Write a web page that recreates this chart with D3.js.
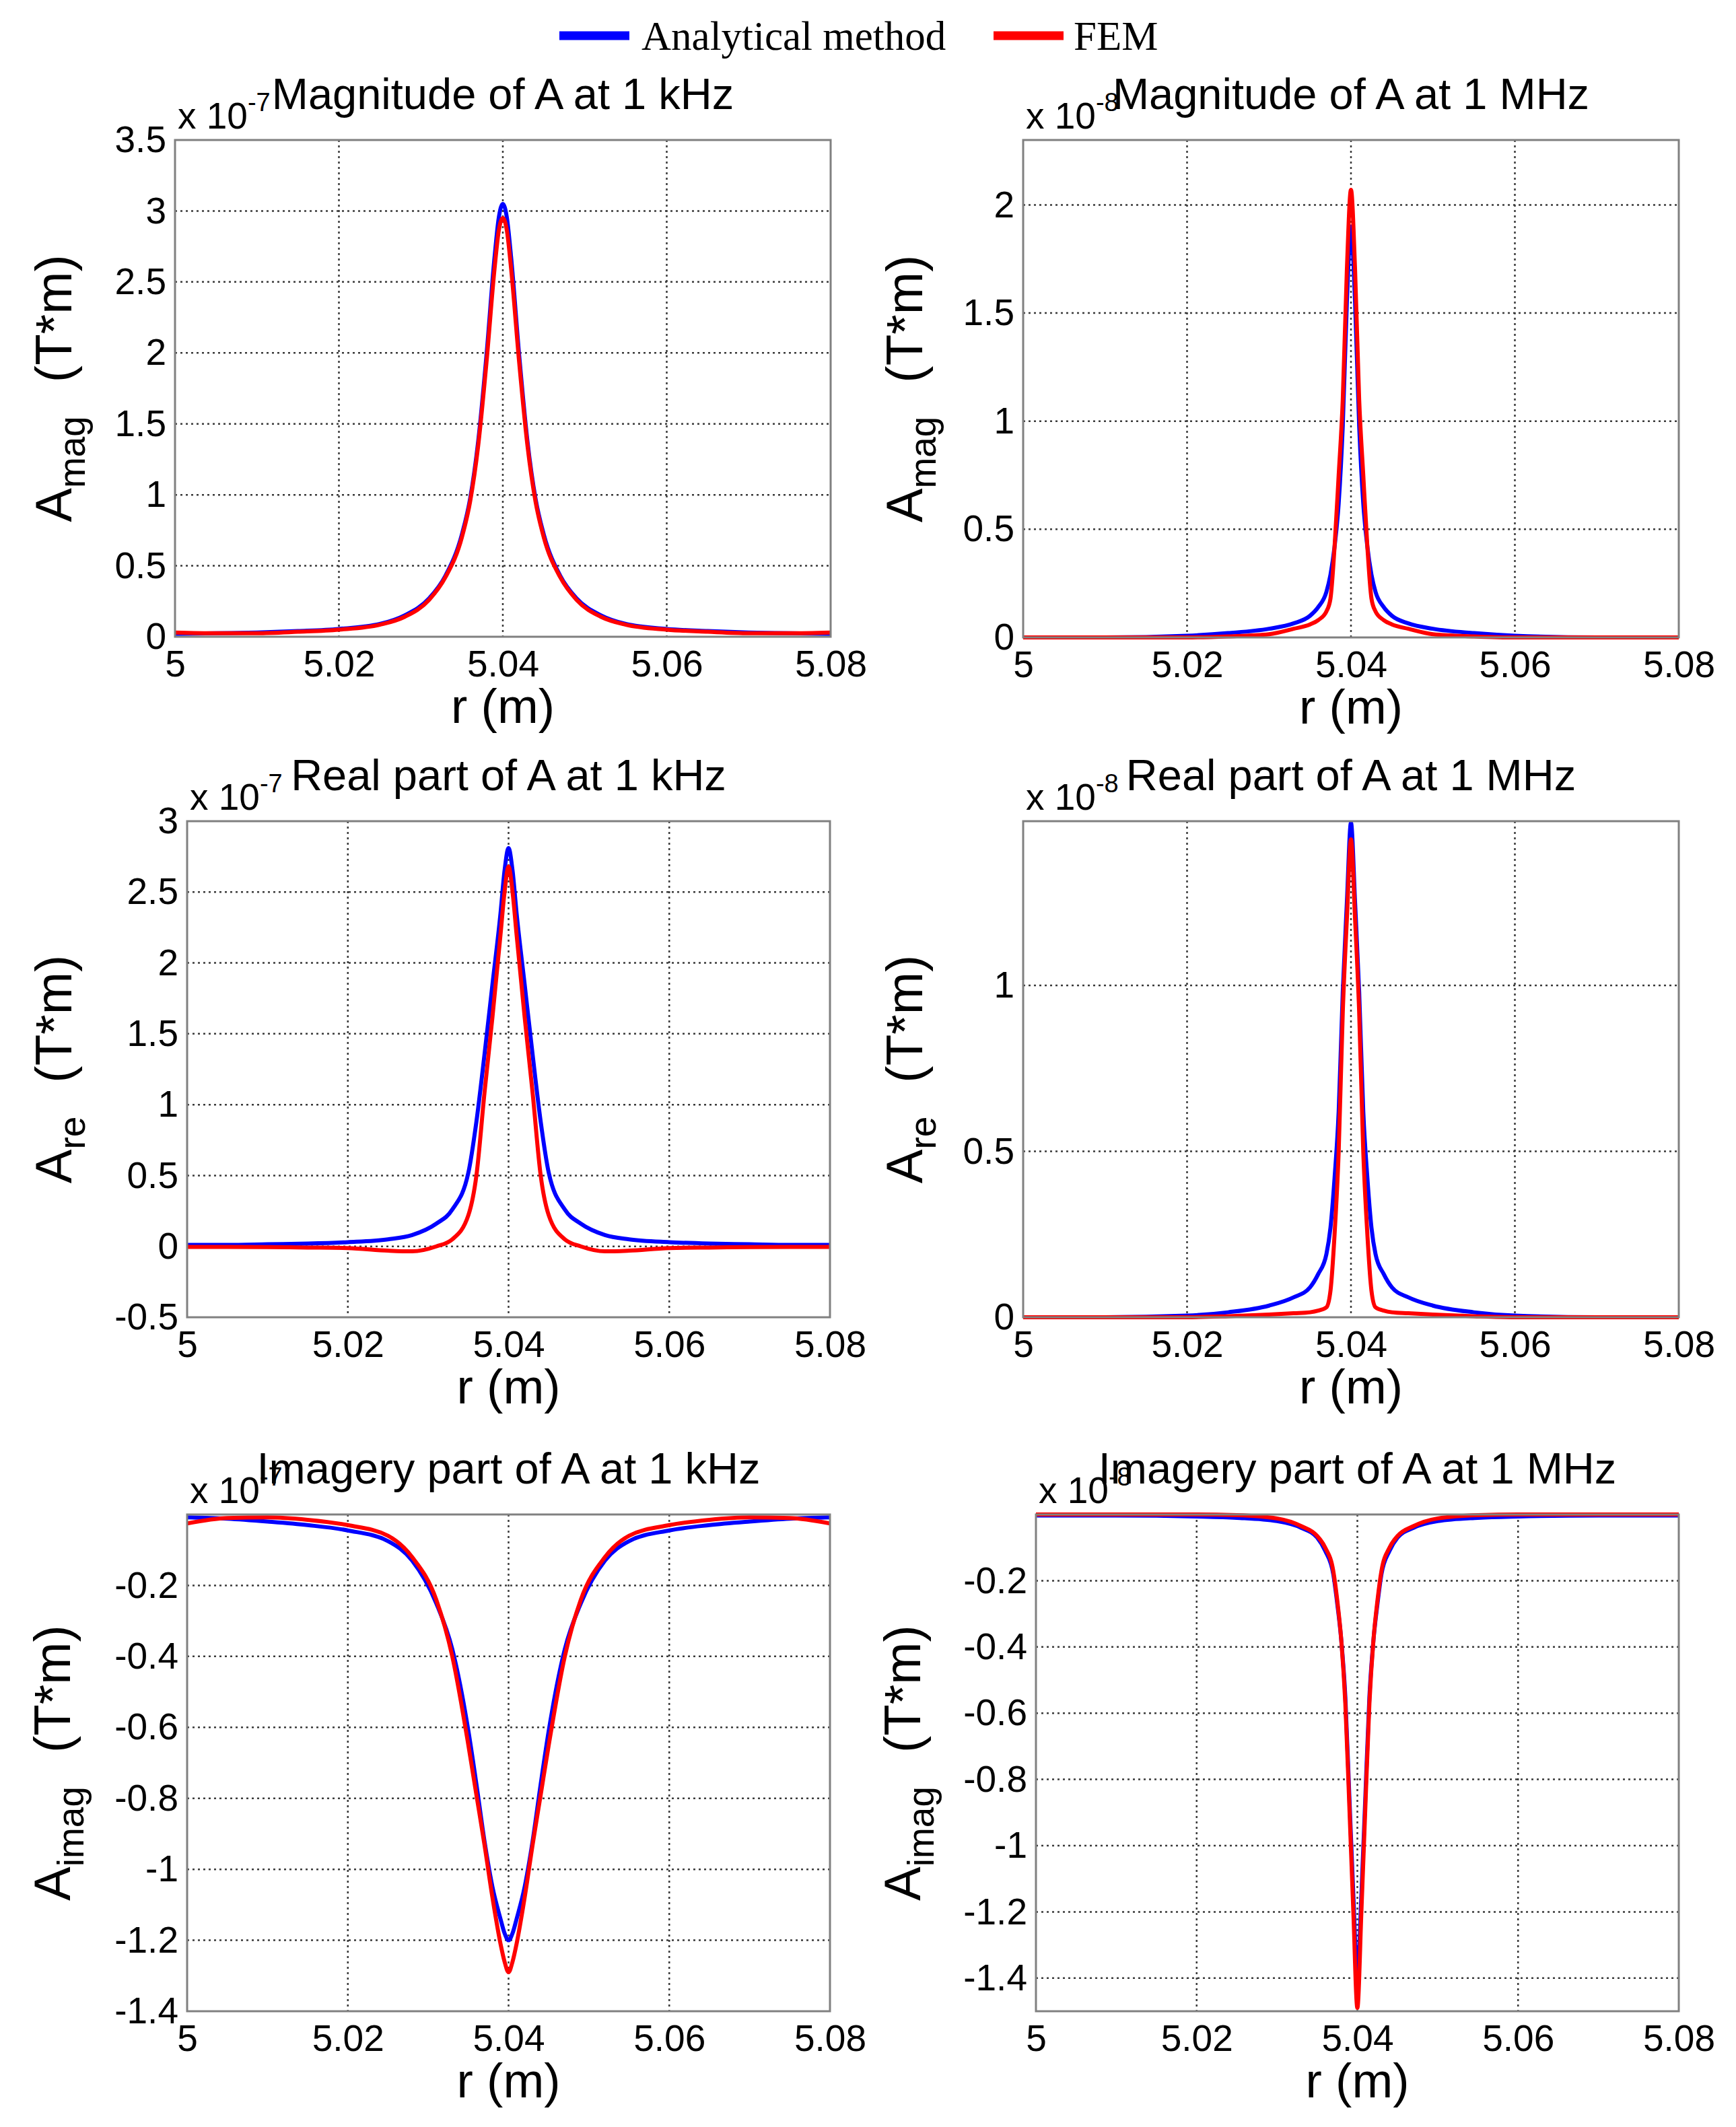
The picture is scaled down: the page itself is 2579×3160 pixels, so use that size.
<!DOCTYPE html>
<html>
<head>
<meta charset="UTF-8">
<title>A field comparison</title>
<script src="https://d3js.org/d3.v7.min.js"></script>
<style>
    body { margin: 0; background: #fff; }
    svg { display: block; }
    text { font-family: "Liberation Sans", Arial, sans-serif; fill: #000; }
</style>
</head>
<body>
<svg id="chart" width="2579" height="3160"></svg>
<script>
    // ---- data (y values in units of the axis exponent) ----
    const seriesNames = ["Analytical method", "FEM"];
    const titles = [
        "Magnitude of A at 1 kHz", "Magnitude of A at 1 MHz",
        "Real part of A at 1 kHz", "Real part of A at 1 MHz",
        "Imagery part of A at 1 kHz", "Imagery part of A at 1 MHz"
    ];
    const exponents = ["-7", "-8", "-7", "-8", "-7", "-8"];
    const ySubscripts = ["mag", "mag", "re", "re", "imag", "imag"];

    const xTicks = [5, 5.02, 5.04, 5.06, 5.08];
    const xLimits = [5, 5.08];

    // r grid for the 1 kHz plots
    const rKHz = [5.000, 5.005, 5.010, 5.015, 5.020, 5.025, 5.028, 5.031, 5.033, 5.035, 5.036,
        5.037, 5.038, 5.039, 5.0395, 5.040, 5.0405, 5.041, 5.042, 5.043, 5.044, 5.045,
        5.047, 5.049, 5.052, 5.055, 5.060, 5.065, 5.070, 5.075, 5.080];
    // r grid for the 1 MHz plots
    const rMHz = [5.000, 5.010, 5.020, 5.025, 5.030, 5.033, 5.035, 5.036, 5.037, 5.0375,
        5.038, 5.0385, 5.039, 5.0395, 5.040, 5.0405, 5.041, 5.0415, 5.042, 5.0425, 5.043,
        5.044, 5.045, 5.047, 5.050, 5.055, 5.060, 5.070, 5.080];

    const magKHzAnalytical = [0.02, 0.025, 0.03, 0.04, 0.055, 0.09, 0.15, 0.27, 0.43, 0.72, 0.97,
        1.38, 1.98, 2.68, 2.95, 3.05, 2.95, 2.68, 1.98, 1.38, 0.97, 0.72,
        0.43, 0.27, 0.15, 0.09, 0.055, 0.04, 0.03, 0.025, 0.02];
    const magKHzFEM = [0.03, 0.025, 0.025, 0.035, 0.05, 0.085, 0.14, 0.26, 0.42, 0.70, 0.95,
        1.35, 1.93, 2.60, 2.86, 2.95, 2.86, 2.60, 1.93, 1.35, 0.95, 0.70,
        0.42, 0.26, 0.14, 0.085, 0.05, 0.035, 0.025, 0.025, 0.03];

    const magMHzAnalytical = [0, 0, 0.008, 0.02, 0.04, 0.065, 0.10, 0.14, 0.21, 0.29,
        0.42, 0.62, 0.98, 1.55, 1.90, 1.55, 0.98, 0.62, 0.42, 0.29, 0.21,
        0.14, 0.10, 0.065, 0.04, 0.02, 0.008, 0, 0];
    const magMHzFEM = [0, 0, 0, 0.005, 0.015, 0.04, 0.06, 0.08, 0.12, 0.18,
        0.42, 0.75, 1.10, 1.70, 2.07, 1.70, 1.10, 0.75, 0.42, 0.18, 0.12,
        0.08, 0.06, 0.04, 0.015, 0.005, 0, 0, 0];

    const reKHzAnalytical = [0.01, 0.01, 0.015, 0.02, 0.03, 0.05, 0.08, 0.16, 0.26, 0.52, 0.88,
        1.35, 1.85, 2.35, 2.65, 2.81, 2.65, 2.35, 1.85, 1.35, 0.88, 0.52,
        0.26, 0.16, 0.08, 0.05, 0.03, 0.02, 0.015, 0.01, 0.01];
    const reKHzFEM = [-0.004, -0.004, -0.005, -0.008, -0.012, -0.03, -0.035, 0.0, 0.05, 0.22, 0.50,
        1.08, 1.62, 2.20, 2.50, 2.68, 2.50, 2.20, 1.62, 1.08, 0.50, 0.22,
        0.05, 0.0, -0.035, -0.03, -0.012, -0.008, -0.005, -0.004, -0.004];

    const reMHzAnalytical = [0, 0, 0.005, 0.015, 0.035, 0.06, 0.09, 0.13, 0.19, 0.27,
        0.42, 0.62, 0.98, 1.25, 1.49, 1.25, 0.98, 0.62, 0.42, 0.27, 0.19,
        0.13, 0.09, 0.06, 0.035, 0.015, 0.005, 0, 0];
    const reMHzFEM = [0, 0, 0, 0.003, 0.008, 0.012, 0.015, 0.02, 0.03, 0.08,
        0.25, 0.50, 0.92, 1.20, 1.44, 1.20, 0.92, 0.50, 0.25, 0.08, 0.03,
        0.02, 0.015, 0.012, 0.008, 0.003, 0, 0, 0];

    const imKHzAnalytical = [-0.008, -0.012, -0.02, -0.03, -0.045, -0.075, -0.13, -0.25, -0.38, -0.61, -0.76,
        -0.92, -1.05, -1.14, -1.18, -1.20, -1.18, -1.14, -1.05, -0.92, -0.76, -0.61,
        -0.38, -0.25, -0.13, -0.075, -0.045, -0.03, -0.02, -0.012, -0.008];
    const imKHzFEM = [-0.025, -0.01, -0.008, -0.015, -0.03, -0.06, -0.12, -0.24, -0.40, -0.65, -0.79,
        -0.93, -1.08, -1.21, -1.26, -1.29, -1.26, -1.21, -1.08, -0.93, -0.79, -0.65,
        -0.40, -0.24, -0.12, -0.06, -0.03, -0.015, -0.008, -0.01, -0.025];

    const imMHzAnalytical = [-0.003, -0.003, -0.006, -0.01, -0.02, -0.04, -0.07, -0.11, -0.18, -0.27,
        -0.38, -0.55, -0.85, -1.15, -1.40, -1.15, -0.85, -0.55, -0.38, -0.27, -0.18,
        -0.11, -0.07, -0.04, -0.02, -0.01, -0.006, -0.003, -0.003];
    const imMHzFEM = [0, 0, 0, -0.002, -0.012, -0.035, -0.065, -0.10, -0.17, -0.26,
        -0.38, -0.57, -0.88, -1.20, -1.49, -1.20, -0.88, -0.57, -0.38, -0.26, -0.17,
        -0.10, -0.065, -0.035, -0.012, -0.002, 0, 0, 0];

    const yTicksMagKHz = [0, 0.5, 1, 1.5, 2, 2.5, 3, 3.5];
    const yTicksMagMHz = [0, 0.5, 1, 1.5, 2];
    const yTicksReKHz = [-0.5, 0, 0.5, 1, 1.5, 2, 2.5, 3];
    const yTicksReMHz = [0, 0.5, 1];
    const yTicksIm = [-1.4, -1.2, -1, -0.8, -0.6, -0.4, -0.2];

    const yLimits = [[0, 3.5], [0, 2.3], [-0.5, 3], [0, 1.495], [-1.4, 0], [-1.5, 0]];

    // ---- layout ----
    const colors = ["#0000ff", "#ff0000"];
    const boxes = [
        { left: 260, top: 208, right: 1234, bottom: 946, labelX: 106 },
        { left: 1520, top: 208, right: 2494, bottom: 947, labelX: 1370 },
        { left: 278, top: 1220, right: 1233, bottom: 1957, labelX: 106 },
        { left: 1520, top: 1220, right: 2494, bottom: 1957, labelX: 1370 },
        { left: 278, top: 2250, right: 1233, bottom: 2988, labelX: 104 },
        { left: 1539, top: 2250, right: 2494, bottom: 2988, labelX: 1367 }
    ];
    const panelData = [
        { r: rKHz, ys: [magKHzAnalytical, magKHzFEM], yTicks: yTicksMagKHz },
        { r: rMHz, ys: [magMHzAnalytical, magMHzFEM], yTicks: yTicksMagMHz },
        { r: rKHz, ys: [reKHzAnalytical, reKHzFEM], yTicks: yTicksReKHz },
        { r: rMHz, ys: [reMHzAnalytical, reMHzFEM], yTicks: yTicksReMHz },
        { r: rKHz, ys: [imKHzAnalytical, imKHzFEM], yTicks: yTicksIm },
        { r: rMHz, ys: [imMHzAnalytical, imMHzFEM], yTicks: yTicksIm }
    ];

    const svg = d3.select("#chart");
    svg.append("rect").attr("width", 2579).attr("height", 3160).attr("fill", "#fff");

    const fmt = d => String(+d.toFixed(2));

    boxes.forEach((b, i) => {
        const p = panelData[i];
        const w = b.right - b.left, h = b.bottom - b.top;
        const g = svg.append("g").attr("transform", `translate(${b.left},${b.top})`);

        const x = d3.scaleLinear().domain(xLimits).range([0, w]);
        const y = d3.scaleLinear().domain(yLimits[i]).range([h, 0]);

        // grid (dotted, like MATLAB's grid on)
        g.append("g").selectAll("line").data(xTicks.slice(1, -1)).join("line")
            .attr("x1", d => x(d)).attr("x2", d => x(d)).attr("y1", 0).attr("y2", h)
            .attr("stroke", "#3a3a3a").attr("stroke-width", 2.5).attr("stroke-dasharray", "3,5");
        g.append("g").selectAll("line")
            .data(p.yTicks.filter(d => d > yLimits[i][0] && d < yLimits[i][1])).join("line")
            .attr("x1", 0).attr("x2", w).attr("y1", d => y(d)).attr("y2", d => y(d))
            .attr("stroke", "#3a3a3a").attr("stroke-width", 2.5).attr("stroke-dasharray", "3,5");

        // curves
        const clipId = "clip" + i;
        g.append("clipPath").attr("id", clipId).append("rect")
            .attr("x", 0).attr("y", -4).attr("width", w).attr("height", h + 8);
        const line = d3.line().x(d => x(d[0])).y(d => y(d[1])).curve(d3.curveMonotoneX);
        p.ys.forEach((vals, s) => {
            g.append("path")
                .datum(p.r.map((r, k) => [r, vals[k]]))
                .attr("clip-path", `url(#${clipId})`)
                .attr("fill", "none")
                .attr("stroke", colors[s])
                .attr("stroke-width", 6)
                .attr("stroke-linejoin", "round")
                .attr("d", line);
        });

        // box
        g.append("rect").attr("width", w).attr("height", h)
            .attr("fill", "none").attr("stroke", "#808080").attr("stroke-width", 3);

        // axes
        const xa = g.append("g").attr("transform", `translate(0,${h})`)
            .call(d3.axisBottom(x).tickValues(xTicks).tickFormat(fmt).tickSize(0).tickPadding(20));
        const ya = g.append("g")
            .call(d3.axisLeft(y).tickValues(p.yTicks).tickFormat(fmt).tickSize(0).tickPadding(13));
        [xa, ya].forEach(a => {
            a.select(".domain").remove();
            a.selectAll("text").style("font-size", "55px").attr("fill", "#000")
                .style("font-family", '"Liberation Sans", Arial, sans-serif');
        });

        // exponent
        const ex = g.append("text").attr("x", 4).attr("y", -17).style("font-size", "55px");
        ex.append("tspan").text("x 10");
        ex.append("tspan").attr("dy", -26).style("font-size", "38px").text(exponents[i]);

        // title
        g.append("text").attr("x", w / 2).attr("y", -46).attr("text-anchor", "middle")
            .style("font-size", "65px").text(titles[i]);

        // x label
        g.append("text").attr("x", w / 2).attr("y", h + 128).attr("text-anchor", "middle")
            .style("font-size", "73px").text("r (m)");

        // y label
        const yl = svg.append("text")
            .attr("transform", `translate(${b.labelX},${(b.top + b.bottom) / 2}) rotate(-90)`)
            .attr("text-anchor", "middle").style("font-size", "76px");
        yl.append("tspan").text("A");
        yl.append("tspan").attr("dy", 20).style("font-size", "55px").text(ySubscripts[i]);
        yl.append("tspan").attr("dy", -20).attr("dx", 50).text("(T*m)");
    });

    // legend
    const legend = svg.append("g");
    const legendItems = [{ x1: 831, x2: 935, tx: 953 }, { x1: 1476, x2: 1580, tx: 1595 }];
    legendItems.forEach((it, s) => {
        legend.append("line").attr("x1", it.x1).attr("x2", it.x2).attr("y1", 53).attr("y2", 53)
            .attr("stroke", colors[s]).attr("stroke-width", 13);
        legend.append("text").attr("x", it.tx).attr("y", 74)
            .style("font-family", '"Liberation Serif", "Times New Roman", serif')
            .style("font-size", "61px").attr("fill", "#222").text(seriesNames[s]);
    });
</script>
</body>
</html>
